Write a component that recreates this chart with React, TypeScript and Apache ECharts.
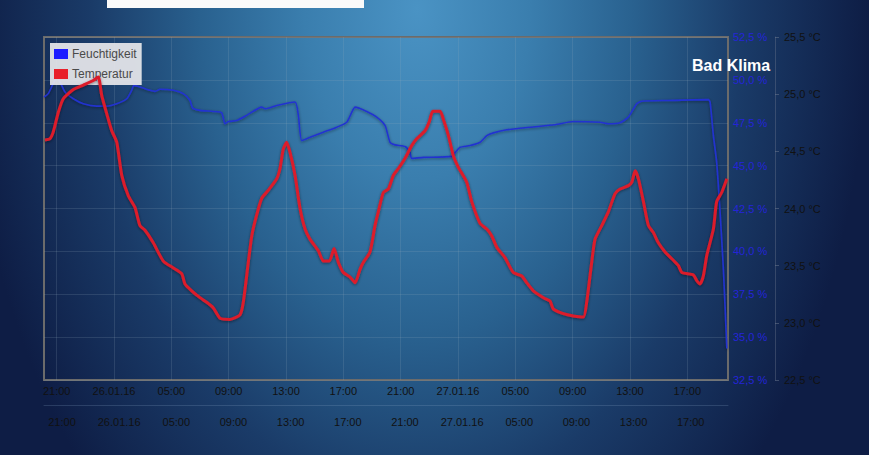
import React, { useEffect, useRef } from "react";
import * as echarts from "echarts";

// hours since 25.01.16 00:00
const tempTimes = [20.18, 20.53, 20.76, 21.11, 21.46, 22.16, 22.86, 23.55, 23.9, 24.14, 24.49, 24.84, 25.19, 25.54, 26.0, 26.46, 26.81, 27.16, 27.74, 28.44, 29.14, 29.72, 29.95, 30.42, 31.0, 31.47, 31.93, 32.4, 33.09, 33.79, 34.02, 34.37, 34.61, 34.84, 35.31, 35.77, 36.35, 36.58, 36.81, 37.05, 37.28, 37.63, 37.98, 38.33, 38.68, 39.26, 39.61, 40.02, 40.35, 40.65, 41.0, 41.47, 41.82, 42.17, 42.4, 42.86, 43.21, 43.44, 43.79, 44.14, 44.49, 44.84, 45.31, 45.77, 46.12, 46.7, 47.0, 47.24, 47.75, 48.03, 48.33, 48.68, 49.03, 49.61, 49.96, 50.54, 51.01, 51.36, 51.71, 52.28, 52.86, 53.45, 53.8, 54.26, 54.96, 55.42, 55.66, 56.35, 57.05, 57.75, 57.98, 58.33, 58.56, 59.03, 59.49, 59.96, 60.31, 60.89, 61.13, 61.36, 61.59, 61.94, 62.29, 62.63, 62.98, 63.45, 63.92, 64.38, 64.62, 65.42, 65.66, 65.89, 66.12, 66.36, 66.82, 67.05, 67.4, 67.76];
const tempValues = [24.6, 24.61, 24.67, 24.84, 24.96, 25.04, 25.08, 25.12, 25.15, 24.99, 24.83, 24.68, 24.58, 24.29, 24.11, 24.01, 23.85, 23.81, 23.7, 23.54, 23.48, 23.43, 23.34, 23.28, 23.22, 23.18, 23.13, 23.04, 23.03, 23.07, 23.18, 23.53, 23.76, 23.89, 24.09, 24.16, 24.26, 24.35, 24.52, 24.58, 24.49, 24.29, 24.0, 23.82, 23.73, 23.63, 23.54, 23.54, 23.65, 23.53, 23.44, 23.4, 23.35, 23.47, 23.53, 23.62, 23.85, 23.97, 24.14, 24.17, 24.29, 24.35, 24.44, 24.55, 24.61, 24.68, 24.76, 24.85, 24.85, 24.76, 24.64, 24.46, 24.36, 24.23, 24.06, 23.87, 23.82, 23.76, 23.66, 23.57, 23.44, 23.41, 23.35, 23.28, 23.22, 23.19, 23.12, 23.08, 23.06, 23.05, 23.18, 23.53, 23.73, 23.85, 23.97, 24.13, 24.17, 24.2, 24.23, 24.33, 24.26, 24.06, 23.85, 23.79, 23.7, 23.62, 23.56, 23.5, 23.44, 23.42, 23.37, 23.34, 23.41, 23.59, 23.82, 24.06, 24.14, 24.26];

const humTimes = [20.11, 20.41, 20.76, 21.0, 21.23, 21.58, 22.16, 22.86, 23.79, 24.49, 25.19, 25.89, 26.23, 26.39, 26.81, 27.51, 27.86, 28.21, 29.14, 29.83, 30.3, 30.49, 31.0, 31.93, 32.51, 32.74, 32.98, 33.56, 34.26, 35.31, 35.54, 36.35, 37.63, 37.86, 38.1, 38.68, 39.6, 40.54, 41.24, 41.59, 41.82, 42.63, 43.33, 43.91, 44.26, 44.61, 45.31, 45.65, 45.77, 46.58, 48.56, 48.91, 49.14, 49.84, 50.54, 51.01, 51.47, 52.4, 54.03, 55.77, 57.05, 58.91, 59.49, 60.31, 60.89, 61.47, 61.82, 63.57, 66.47, 66.59, 66.82, 67.05, 67.29, 67.52, 67.76];
const humValues = [49.0, 49.2, 49.79, 50.1, 49.88, 49.29, 48.9, 48.61, 48.47, 48.47, 48.61, 48.9, 49.39, 49.68, 49.59, 49.39, 49.33, 49.45, 49.39, 49.2, 48.8, 48.35, 48.22, 48.16, 48.08, 47.44, 47.57, 47.63, 47.93, 48.41, 48.32, 48.51, 48.71, 47.93, 46.46, 46.65, 46.95, 47.24, 47.53, 48.12, 48.41, 48.16, 47.83, 47.34, 46.36, 46.21, 46.11, 45.77, 45.42, 45.48, 45.54, 45.87, 46.07, 46.17, 46.36, 46.75, 46.91, 47.09, 47.24, 47.38, 47.57, 47.53, 47.44, 47.5, 47.83, 48.61, 48.75, 48.8, 48.85, 48.71, 46.75, 45.19, 42.25, 38.93, 34.34];

const tickHours = [21, 25, 29, 33, 37, 41, 45, 49, 53, 57, 61, 65];
const dateLabels = ["25.01.16", "26.01.16", "27.01.16"];

const fmtTime = (v: number) => {
  const r = Math.round(v);
  const h = r % 24;
  if (h === 1) return dateLabels[Math.floor(r / 24)];
  return (h < 10 ? "0" : "") + h + ":00";
};
const comma = (v: number) => v.toFixed(1).replace(".", ",");

export default function App() {
  const ref = useRef<HTMLDivElement>(null);
  useEffect(() => {
    if (!ref.current) return;
    const chart = echarts.init(ref.current, undefined, { renderer: "svg" });
    const font = "'Liberation Sans', Arial, sans-serif";
    chart.setOption({
      animation: false,
      backgroundColor: "transparent",
      textStyle: { fontFamily: font },
      title: {
        text: "Bad Klima",
        left: 692,
        top: 57,
        padding: 0,
        textStyle: { color: "#ffffff", fontSize: 16, fontWeight: "bold", fontFamily: font },
      },
      legend: {
        orient: "vertical",
        left: 50,
        top: 43,
        padding: [5, 5, 5, 4],
        itemGap: 8,
        itemWidth: 14,
        itemHeight: 10,
        backgroundColor: "rgba(232,232,236,0.92)",
        icon: "rect",
        textStyle: { color: "#4a4a4a", fontSize: 12, fontFamily: font, padding: [0, 0, 0, -1] },
        data: ["Feuchtigkeit", "Temperatur"],
      },
      graphic: [
        { type: "rect", shape: { x: 107, y: 0, width: 257, height: 8 }, style: { fill: "#fafafa" } },
      ],
      grid: {
        left: 44,
        top: 37,
        width: 684,
        height: 343,
        show: true,
        borderColor: "#6b6b6b",
        borderWidth: 2,
        backgroundColor: "transparent",
      },
      xAxis: [
        {
          type: "value",
          min: 20.114,
          max: 67.84,
          axisLine: { show: false },
          axisTick: { show: false, customValues: tickHours },
          splitLine: { show: true, lineStyle: { color: "rgba(150,170,190,0.18)", width: 1 } },
          axisLabel: {
            customValues: tickHours,
            formatter: fmtTime,
            color: "#111",
            fontSize: 11,
            margin: 5,
            fontFamily: font,
          },
        },
        {
          type: "value",
          position: "bottom",
          offset: 25,
          min: 19.74,
          max: 67.61,
          axisLine: { show: true, lineStyle: { color: "rgba(140,170,200,0.22)", width: 1 } },
          axisTick: { show: false, customValues: tickHours },
          splitLine: { show: false },
          axisLabel: {
            customValues: tickHours,
            formatter: fmtTime,
            color: "#111",
            fontSize: 11,
            margin: 11,
            fontFamily: font,
          },
        },
      ],
      yAxis: [
        {
          type: "value",
          position: "right",
          min: 32.5,
          max: 52.5,
          interval: 2.5,
          axisLine: { show: false },
          axisTick: { show: false },
          splitLine: { show: true, lineStyle: { color: "rgba(150,170,190,0.18)", width: 1 } },
          axisLabel: {
            formatter: (v: number) => comma(v) + " %",
            color: "#2424d8",
            fontSize: 11,
            margin: 5,
            fontFamily: font,
          },
        },
        {
          type: "value",
          position: "right",
          offset: 47,
          min: 22.5,
          max: 25.5,
          interval: 0.5,
          axisLine: { show: true, lineStyle: { color: "rgba(120,130,150,0.35)", width: 1 } },
          axisTick: { show: true, length: 4, lineStyle: { color: "rgba(120,130,150,0.45)" } },
          splitLine: { show: false },
          axisLabel: {
            formatter: (v: number) => comma(v) + " °C",
            color: "#111",
            fontSize: 11,
            margin: 9,
            fontFamily: font,
          },
        },
      ],
      series: [
        {
          name: "Feuchtigkeit",
          type: "line",
          xAxisIndex: 0,
          yAxisIndex: 0,
          showSymbol: false,
          smooth: 0.2,
          data: humTimes.map((t, i) => [t, humValues[i]]),
          itemStyle: { color: "#1c1cff" },
          lineStyle: {
            color: "#2233d0",
            width: 1.6,
            shadowBlur: 3,
            shadowColor: "rgba(0,0,0,0.45)",
            shadowOffsetY: 1,
          },
          z: 3,
        },
        {
          name: "Temperatur",
          type: "line",
          xAxisIndex: 0,
          yAxisIndex: 1,
          showSymbol: false,
          smooth: 0.2,
          data: tempTimes.map((t, i) => [t, tempValues[i]]),
          itemStyle: { color: "#e8202a" },
          lineStyle: {
            color: "#dc1c2c",
            width: 3,
            shadowBlur: 3,
            shadowColor: "rgba(0,0,0,0.45)",
            shadowOffsetY: 1,
          },
          z: 4,
        },
      ],
    });
    return () => chart.dispose();
  }, []);

  return (
    <div
      style={{
        position: "absolute",
        left: 0,
        top: 0,
        width: 869,
        height: 455,
        overflow: "hidden",
        background:
          "radial-gradient(ellipse 52% 150% at 48% 2%, #4a93c4 0%, #3a7eae 25%, #29618f 48%, #1a3b68 72%, #0e1d45 100%)",
      }}
    >
      <div ref={ref} style={{ width: 869, height: 455 }} />
    </div>
  );
}
